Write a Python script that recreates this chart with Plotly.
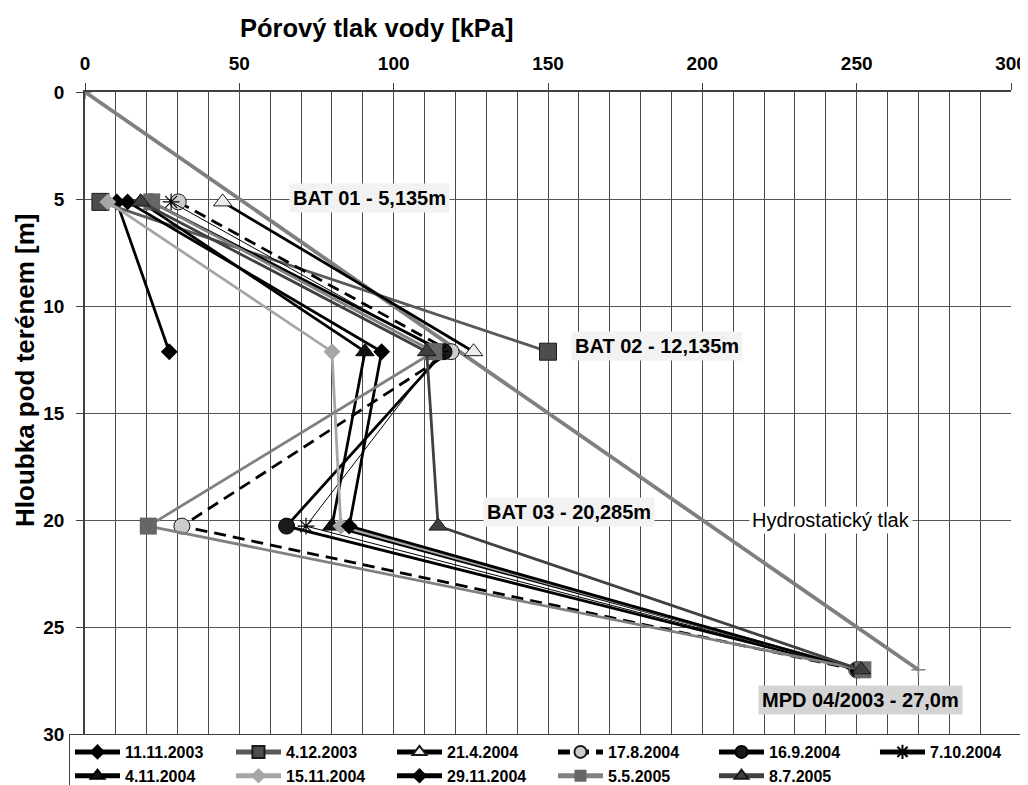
import plotly.graph_objects as go

# Depths of the measuring points [m]
depths = [5.135, 12.135, 20.285, 27.0]
point_labels = ["BAT 01 - 5,135m", "BAT 02 - 12,135m", "BAT 03 - 20,285m", "MPD 04/2003 - 27,0m"]

# Pore water pressure [kPa] per measuring date (None = not measured)
dates = ["11.11.2003", "4.12.2003", "21.4.2004", "17.8.2004", "16.9.2004", "7.10.2004",
         "4.11.2004", "15.11.2004", "29.11.2004", "5.5.2005", "8.7.2005"]
p_11_11_2003 = [10.3, 27.3, None, None]
p_04_12_2003 = [5.0, 150.0, None, None]
p_21_04_2004 = [44.6, 125.9, None, None]
p_17_08_2004 = [30.2, 118.6, 31.4, 250.0]
p_16_09_2004 = [21.5, 116.3, 65.3, 250.5]
p_07_10_2004 = [27.9, 115.0, 71.6, 251.0]
p_04_11_2004 = [18.0, 90.7, 80.0, 251.5]
p_15_11_2004 = [7.4, 80.0, 82.9, 251.0]
p_29_11_2004 = [13.8, 96.1, 85.6, 250.5]
p_05_05_2005 = [21.6, 113.0, 20.5, 252.0]
p_08_07_2005 = [18.1, 110.7, 114.4, 251.5]

# Hydrostatic pressure line
hydro_depth = [0.0, 27.0]
hydro_p = [0.0, 270.0]

series = [p_11_11_2003, p_04_12_2003, p_21_04_2004, p_17_08_2004, p_16_09_2004, p_07_10_2004,
          p_04_11_2004, p_15_11_2004, p_29_11_2004, p_05_05_2005, p_08_07_2005]

LW = 2.8
styles = [
    dict(line=dict(color="#000000", width=LW), marker=dict(symbol="diamond", size=13, color="#000000")),
    dict(line=dict(color="#595959", width=LW), marker=dict(symbol="square", size=17, color="#4d4d4d", line=dict(color="#1a1a1a", width=1))),
    dict(line=dict(color="#000000", width=LW), marker=dict(symbol="triangle-up", size=16, color="#eeeeee", line=dict(color="#1a1a1a", width=1))),
    dict(line=dict(color="#000000", width=LW, dash="12px,7px"), marker=dict(symbol="circle", size=16, color="#cccccc", line=dict(color="#1a1a1a", width=1))),
    dict(line=dict(color="#000000", width=LW), marker=dict(symbol="circle", size=16, color="#1a1a1a", line=dict(color="#000000", width=1))),
    dict(line=dict(color="#000000", width=1), marker=dict(symbol="asterisk-open", size=14, color="#000000", line=dict(color="#000000", width=1.2))),
    dict(line=dict(color="#000000", width=LW), marker=dict(symbol="triangle-up", size=16, color="#111111", line=dict(color="#000000", width=1))),
    dict(line=dict(color="#a6a6a6", width=LW), marker=dict(symbol="diamond", size=13, color="#a6a6a6")),
    dict(line=dict(color="#000000", width=LW), marker=dict(symbol="diamond", size=13, color="#000000")),
    dict(line=dict(color="#808080", width=LW), marker=dict(symbol="square", size=17, color="#666666")),
    dict(line=dict(color="#404040", width=LW), marker=dict(symbol="triangle-up", size=16, color="#404040", line=dict(color="#1a1a1a", width=1))),
]

FONT = "Liberation Sans, Arial, sans-serif"

fig = go.Figure()

fig.add_trace(go.Scatter(
    x=hydro_p, y=hydro_depth, mode="lines+markers", showlegend=False,
    line=dict(color="#7f7f7f", width=3.8),
    marker=dict(symbol="cross-thin-open", size=10, color="#7f7f7f", line=dict(color="#7f7f7f", width=1.5)),
    hoverinfo="skip"))

for name, vals, st in zip(dates, series, styles):
    fig.add_trace(go.Scatter(x=vals, y=depths, name=name, mode="lines+markers",
                             line=st["line"], marker=st["marker"], connectgaps=False))

ann_bold = dict(family=FONT, size=20, color="#000000", weight="bold")
annotations = [
    dict(x=92.3, y=4.94, text=point_labels[0], bgcolor="#f2f2f2"),
    dict(x=185.4, y=11.86, text=point_labels[1], bgcolor="#f2f2f2"),
    dict(x=156.8, y=19.63, text=point_labels[2], bgcolor="#f2f2f2"),
    dict(x=251.1, y=28.43, text=point_labels[3], bgcolor="#d4d4d4"),
]
for a in annotations:
    fig.add_annotation(x=a["x"], y=a["y"], xref="x", yref="y", text=a["text"], showarrow=False,
                       font=ann_bold, bgcolor=a["bgcolor"], borderpad=3, xanchor="center", yanchor="middle")

fig.add_annotation(x=241.7, y=20.0, xref="x", yref="y", text="Hydrostatický tlak", showarrow=False,
                   font=dict(family=FONT, size=20, color="#000000"), bgcolor="#ffffff", borderpad=2,
                   xanchor="center", yanchor="middle")

fig.add_annotation(x=0.315, y=1.0997, xref="paper", yref="paper", text="Pórový tlak vody [kPa]",
                   showarrow=False, font=dict(family=FONT, size=25.5, color="#000000", weight="bold"),
                   xanchor="center", yanchor="middle")
fig.add_annotation(x=-0.0655, y=0.566, xref="paper", yref="paper", text="Hloubka pod terénem [m]",
                   showarrow=False, textangle=-90, font=dict(family=FONT, size=26, color="#000000", weight="bold"),
                   xanchor="center", yanchor="middle")

fig.update_xaxes(side="top", range=[0, 300], tick0=0, dtick=50, showline=True, linecolor="#404040",
                 linewidth=1.5, ticks="outside", ticklen=7, tickcolor="#404040", tickwidth=1.2,
                 ticklabelstandoff=6, automargin=False,
                 showgrid=True, gridcolor="#4a4a4a", gridwidth=1, zeroline=False,
                 minor=dict(dtick=10, showgrid=True, gridcolor="#4a4a4a", gridwidth=1, ticks=""),
                 tickfont=dict(family=FONT, size=19, color="#000000", weight="bold"))
fig.update_yaxes(range=[30, 0], tick0=0, dtick=5, showline=True, linecolor="#404040", linewidth=1.5,
                 ticks="outside", ticklen=7, tickcolor="#404040", tickwidth=1.2, ticklabelstandoff=8,
                 automargin=False,
                 showgrid=True, gridcolor="#555555", gridwidth=1, zeroline=False,
                 tickfont=dict(family=FONT, size=19, color="#000000", weight="bold"))

# The page body adds an 8px offset; margins compensate so the plot area lands at x 85-1011, y 92-734
fig.update_layout(
    width=1028, height=785,
    margin=dict(l=77, r=25, t=84, b=59, autoexpand=False),
    plot_bgcolor="#ffffff", paper_bgcolor="#ffffff",
    font=dict(family=FONT),
    legend=dict(orientation="h", x=-0.0173, y=0, xanchor="left", yanchor="top",
                entrywidth=101, itemwidth=45, itemsizing="constant",
                bordercolor="#404040", borderwidth=1, bgcolor="#ffffff",
                font=dict(family=FONT, size=16, color="#000000", weight="bold"),
                tracegroupgap=0),
    showlegend=True,
)

fig.write_html("out.html")
